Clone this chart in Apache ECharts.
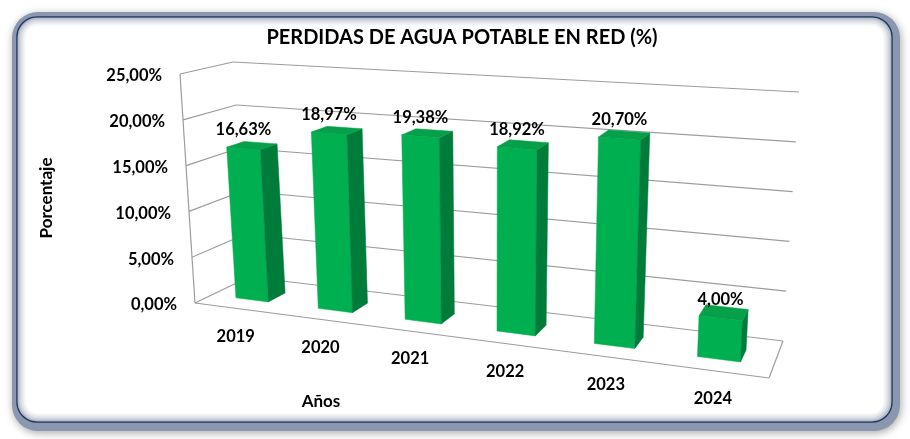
<!DOCTYPE html>
<html><head><meta charset="utf-8">
<script src="https://cdn.jsdelivr.net/npm/echarts@6/dist/echarts.min.js"></script>
<style>html,body{margin:0;padding:0;background:#fff;}#c{width:910px;height:439px;}</style>
</head><body><div id="c"></div>
<script>
// ---- data ----
const chartTitle = 'PERDIDAS DE AGUA POTABLE EN RED (%)';
const categories = ['2019', '2020', '2021', '2022', '2023', '2024'];
const values = [16.63, 18.97, 19.38, 18.92, 20.70, 4.00];
const valueLabels = ['16,63%', '18,97%', '19,38%', '18,92%', '20,70%', '4,00%'];
const yTicks = [0, 5, 10, 15, 20, 25];
const yTickLabels = ['0,00%', '5,00%', '10,00%', '15,00%', '20,00%', '25,00%'];
const xAxisName = 'Años';
const yAxisName = 'Porcentaje';

// ---- 3D perspective of the Excel-like box ----
const FONT = 'Lato, "Open Sans", sans-serif';
// floor corners for (u,z) = (0,0) front-left, (1,0) front-right, (1,1) back-right, (0,1) back-left
const FLOOR = [[195, 303], [769, 378], [783, 341], [249, 277]];
// full-height (axis max) vertical vectors at the same four corners
const HVEC = [[-15, -229], [12, -263], [16, -249], [-16, -215]];
const ZF = 0.30, ZB = 0.63, BAR_FRAC = 0.4;

function quadMap(q) {
  const [p0, p1, p2, p3] = q;
  const dx1 = p1[0] - p2[0], dx2 = p3[0] - p2[0], dx3 = p0[0] - p1[0] + p2[0] - p3[0];
  const dy1 = p1[1] - p2[1], dy2 = p3[1] - p2[1], dy3 = p0[1] - p1[1] + p2[1] - p3[1];
  const den = dx1 * dy2 - dx2 * dy1;
  const g = (dx3 * dy2 - dx2 * dy3) / den;
  const h = (dx1 * dy3 - dx3 * dy1) / den;
  const a = p1[0] - p0[0] + g * p1[0], b = p3[0] - p0[0] + h * p3[0], c = p0[0];
  const d = p1[1] - p0[1] + g * p1[1], e = p3[1] - p0[1] + h * p3[1], f = p0[1];
  return (u, v) => { const w = g * u + h * v + 1; return [(a * u + b * v + c) / w, (d * u + e * v + f) / w]; };
}
const floorMap = quadMap(FLOOR);
function P(u, t, z) {
  const a = floorMap(u, z);
  const w0 = (1 - u) * (1 - z), w1 = u * (1 - z), w2 = u * z, w3 = (1 - u) * z;
  const hx = w0 * HVEC[0][0] + w1 * HVEC[1][0] + w2 * HVEC[2][0] + w3 * HVEC[3][0];
  const hy = w0 * HVEC[0][1] + w1 * HVEC[1][1] + w2 * HVEC[2][1] + w3 * HVEC[3][1];
  return [a[0] + hx * t, a[1] + hy * t];
}
function tOf(api, cs, v) { return (cs.y + cs.height - api.coord([0, v])[1]) / cs.height; }

const gridColor = '#9c9c9c';
const txt = (x, y, text, extra) => ({
  type: 'text', x: x, y: y,
  style: Object.assign({ text: text, fill: '#000', font: 'bold 16.5px ' + FONT, align: 'center', verticalAlign: 'middle' }, extra || {})
});

function renderWalls(params, api) {
  const cs = params.coordSys;
  const t = tOf(api, cs, api.value(1));
  const line = (p, q) => ({ type: 'line', shape: { x1: p[0], y1: p[1], x2: q[0], y2: q[1] }, style: { stroke: gridColor, lineWidth: 1.2 } });
  const ch = [line(P(0, t, 0), P(0, t, 1)), line(P(0, t, 1), P(1, t, 1))];
  if (params.dataIndex === 0) {
    ch.push(line(P(0, 0, 0), P(1, 0, 0)));
    ch.push(line(P(1, 0, 0), P(1, 0, 1)));
    ch.push(line(P(0, 0, 0), P(0, 1, 0)));
  }
  return { type: 'group', children: ch };
}

function renderBars(params, api) {
  const cs = params.coordSys;
  const i = api.value(0), v = api.value(1);
  const c = api.coord([i, v]);
  const band = api.size([1, 0])[0];
  const uc = (c[0] - cs.x) / cs.width;
  const hw = band * BAR_FRAC / 2 / cs.width;
  const t = (cs.y + cs.height - c[1]) / cs.height;
  const uL = uc - hw, uR = uc + hw;
  const poly = (pts, fill) => ({ type: 'polygon', shape: { points: pts }, style: { fill: fill, stroke: fill, lineWidth: 0.5 } });
  const front = poly([P(uL, 0, ZF), P(uR, 0, ZF), P(uR, t, ZF), P(uL, t, ZF)], '#00b050');
  const side = poly([P(uR, 0, ZF), P(uR, 0, ZB), P(uR, t, ZB), P(uR, t, ZF)], '#007c3a');
  const top = poly([P(uL, t, ZF), P(uR, t, ZF), P(uR, t, ZB), P(uL, t, ZB)], '#05a049');
  const lp = P(uc, t, ZF);
  const cp = P(uc, 0, 0);
  return {
    type: 'group', children: [
      front, side, top,
      txt(lp[0], lp[1] - 19, valueLabels[params.dataIndex]),
      txt(cp[0], cp[1] + 28, categories[params.dataIndex])
    ]
  };
}

const chart = echarts.init(document.getElementById('c'));
chart.setOption({
  animation: false,
  backgroundColor: '#ffffff',
  title: {
    text: chartTitle, left: 462, top: 28, padding: 0, textAlign: 'center',
    textStyle: { fontSize: 20, fontWeight: 'bold', fontFamily: FONT, color: '#000' }
  },
  graphic: [
    { type: 'rect', z: -10, shape: { x: 12, y: 12, width: 888, height: 419, r: 26 },
      style: { fill: '#8a97ae', shadowBlur: 8, shadowColor: 'rgba(0,0,0,0.35)', shadowOffsetX: 1, shadowOffsetY: 2 } },
    { type: 'rect', z: -9, shape: { x: 17, y: 17, width: 875, height: 405, r: 20 },
      style: { fill: '#ffffff', stroke: '#1f3864', lineWidth: 1.5 } },
    { type: 'rect', z: -8, shape: { x: 18.5, y: 18.5, width: 872, height: 402, r: 19 }, style: { fill: 'none', stroke: 'rgba(120,132,155,0.55)', lineWidth: 2 } },
    { type: 'rect', z: -8, shape: { x: 20.5, y: 20.5, width: 868, height: 398, r: 17 }, style: { fill: 'none', stroke: 'rgba(120,132,155,0.35)', lineWidth: 2 } },
    { type: 'rect', z: -8, shape: { x: 22.5, y: 22.5, width: 864, height: 394, r: 15 }, style: { fill: 'none', stroke: 'rgba(120,132,155,0.2)', lineWidth: 2 } },
    { type: 'rect', z: -8, shape: { x: 24.5, y: 24.5, width: 860, height: 390, r: 13 }, style: { fill: 'none', stroke: 'rgba(120,132,155,0.09)', lineWidth: 2 } },
    { type: 'text', x: 321, y: 402, style: { text: xAxisName, fill: '#000', font: 'bold 17px ' + FONT, align: 'center', verticalAlign: 'middle' } },
    { type: 'text', x: 47, y: 198, rotation: Math.PI / 2, style: { text: yAxisName, fill: '#000', font: 'bold 17px ' + FONT, align: 'center', verticalAlign: 'middle' } }
  ],
  grid: { left: 195, right: 141, top: 74, bottom: 136 },
  xAxis: { type: 'category', data: categories, show: false },
  yAxis: {
    type: 'value', min: 0, max: 25, interval: 5,
    axisLine: { show: false }, axisTick: { show: false }, splitLine: { show: false },
    axisLabel: {
      margin: 18,
      formatter: function (v) { const k = yTicks.indexOf(v); return '{r' + k + '|' + yTickLabels[k] + '}'; },
      rich: Object.fromEntries(yTicks.map((v, k) => ['r' + k, {
        padding: [4, Math.round(15 * v / 25), 0, 0], fontSize: 16.5, fontWeight: 'bold', fontFamily: FONT, color: '#000'
      }]))
    }
  },
  series: [
    { type: 'custom', z: 1, renderItem: renderWalls, data: yTicks.map(v => [0, v]), silent: true },
    { type: 'custom', z: 2, renderItem: renderBars, data: values.map((v, i) => [i, v]), silent: true }
  ]
});
</script></body></html>
